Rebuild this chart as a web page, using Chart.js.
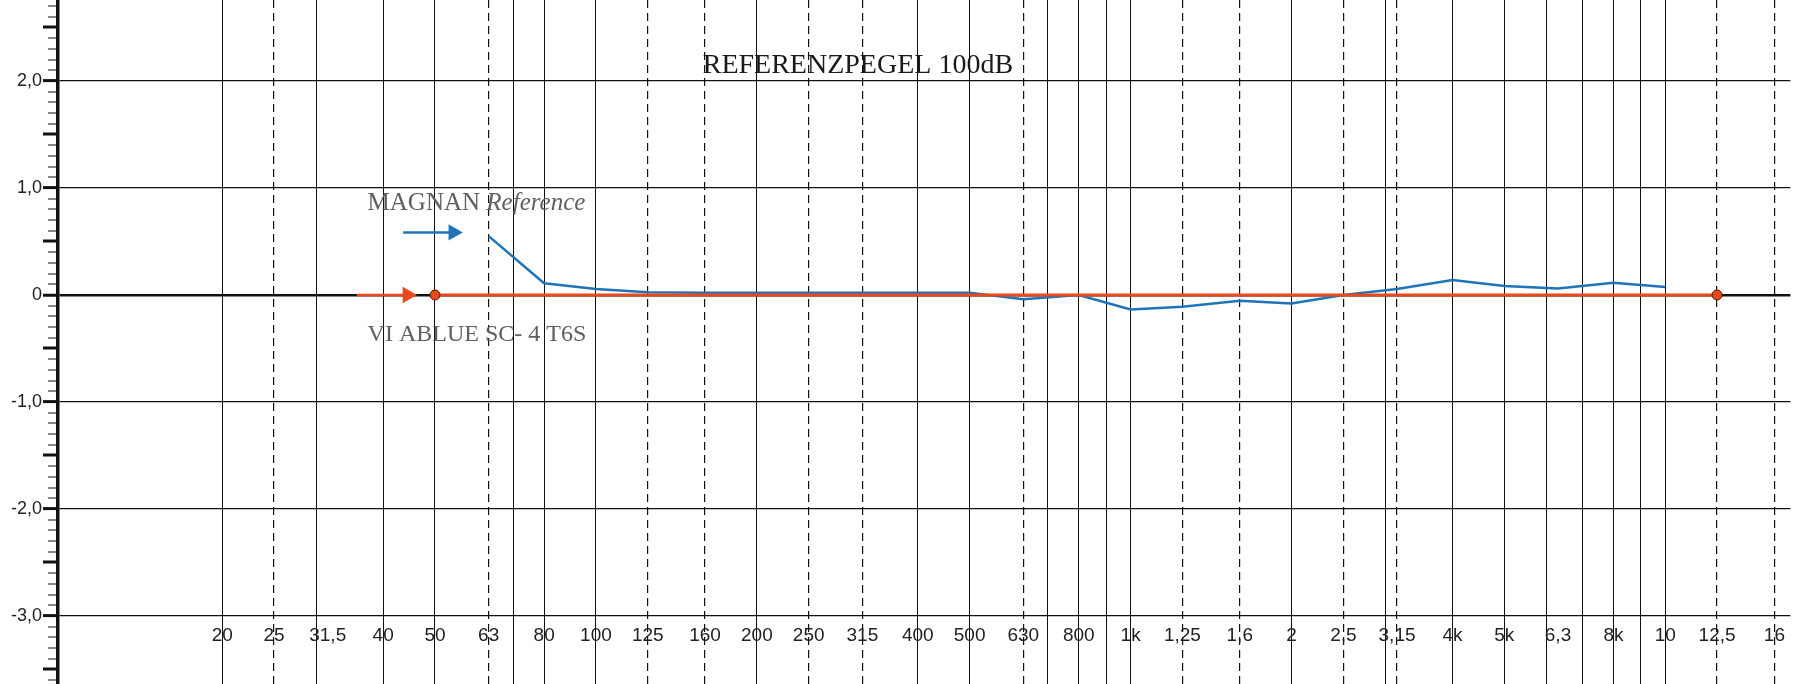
<!DOCTYPE html>
<html>
<head>
<meta charset="utf-8">
<title>Referenzpegel 100dB</title>
<script src="https://cdn.jsdelivr.net/npm/chart.js@4.4.1/dist/chart.umd.min.js"></script>
<style>
  html, body { margin: 0; padding: 0; background: #fff; }
  #wrap { position: relative; width: 1793px; height: 684px; }
</style>
</head>
<body>
<div id="wrap"><canvas id="freqChart"></canvas></div>
<script>
// MAGNAN Reference, 1/3-octave bands (Hz) and deviation (dB)
const magnanFreqs = [63, 80, 100, 125, 160, 200, 250, 315, 400, 500, 630, 800,
  1000, 1250, 1600, 2000, 2500, 3150, 4000, 5000, 6300, 8000, 10000];
const magnanDb = [0.55, 0.11, 0.055, 0.025, 0.02, 0.02, 0.02, 0.02, 0.02, 0.02, -0.04, 0.0,
  -0.135, -0.11, -0.055, -0.08, 0.0, 0.055, 0.14, 0.085, 0.06, 0.115, 0.075];

// VIABLUE SC-4 T6S
const viablueFreqs = [50, 12500];
const viablueDb = [0, 0];

// little legend arrows next to the labels
const magnanArrowFreqs = [43.6, 54.1];
const magnanArrowDb = [0.585, 0.585];
const viablueArrowFreqs = [35.7, 44.4];
const viablueArrowDb = [0, 0];

// x axis
const labelFreqs = [20, 25, 31.5, 40, 50, 63, 80, 100, 125, 160, 200, 250, 315, 400, 500, 630, 800,
  1000, 1250, 1600, 2000, 2500, 3150, 4000, 5000, 6300, 8000, 10000, 12500, 16000];
const labelTexts = ['20', '25', '31,5', '40', '50', '63', '80', '100', '125', '160', '200', '250', '315', '400', '500', '630', '800',
  '1k', '1,25', '1,6', '2', '2,5', '3,15', '4k', '5k', '6,3', '8k', '10', '12,5', '16'];
const solidFreqs = [20, 30, 40, 50, 70, 80, 100, 200, 400, 500, 700, 800, 900,
  1000, 2000, 3000, 4000, 5000, 6000, 7000, 8000, 9000, 10000];
const dashedFreqs = [25, 63, 125, 160, 250, 315, 630, 1250, 1600, 2500, 3150, 12500, 16000];

// y axis
const yLabelValues = [2, 1, 0, -1, -2, -3];
const yLabelTexts = ['2,0', '1,0', '0', '-1,0', '-2,0', '-3,0'];
const yTicks = [];
for (let k = -36; k <= 27; k++) yTicks.push(k / 10);

const X_MIN = 9.86, X_MAX = 17140;
const Y_MIN = -3.636, Y_MAX = 2.757;

const BLUE = '#1f74b8';
const ORANGE = '#e8491d';
const INK = '#111';

const isInt = v => Math.abs(v - Math.round(v)) < 1e-6;
const isHalf = v => Math.abs(v * 2 - Math.round(v * 2)) < 1e-6;
const pts = (xs, ys) => xs.map((x, i) => ({x: x, y: ys[i]}));

const texts = {
  id: 'texts',
  afterDatasetsDraw(chart) {
    const {ctx, scales: {x, y}} = chart;
    ctx.save();
    ctx.textBaseline = 'middle';

    ctx.fillStyle = '#1a1a1a';
    ctx.textAlign = 'center';
    ctx.font = '28px "Liberation Serif"';
    ctx.fillText('REFERENZPEGEL 100dB', x.getPixelForValue(309), y.getPixelForValue(2.14));

    ctx.fillStyle = '#606060';
    ctx.textAlign = 'left';
    const lx = x.getPixelForValue(37.4);
    ctx.font = '25px "Liberation Serif"';
    ctx.fillText('MAGNAN ', lx, y.getPixelForValue(0.86));
    const w = ctx.measureText('MAGNAN ').width;
    ctx.font = 'italic 25px "Liberation Serif"';
    ctx.fillText('Reference', lx + w, y.getPixelForValue(0.86));

    ctx.font = '24px "Liberation Serif"';
    ctx.fillText('VI ABLUE SC- 4 T6S', lx, y.getPixelForValue(-0.374));
    ctx.restore();
  }
};

const logAxis = (freqs) => ({
  type: 'logarithmic',
  axis: 'x',
  min: X_MIN,
  max: X_MAX,
  position: {y: -3},
  afterBuildTicks: s => { s.ticks = freqs.map(v => ({value: v})); }
});

new Chart(document.getElementById('freqChart'), {
  type: 'line',
  data: {
    datasets: [
      {
        label: 'VIABLUE SC-4 T6S',
        data: pts(viablueFreqs, viablueDb),
        borderColor: ORANGE,
        borderWidth: 3,
        pointRadius: 5,
        pointBackgroundColor: ORANGE,
        pointBorderColor: '#5a1a08',
        pointBorderWidth: 1
      },
      {
        label: 'MAGNAN Reference',
        data: pts(magnanFreqs, magnanDb),
        borderColor: BLUE,
        borderWidth: 2.5,
        pointRadius: 0
      },
      {
        label: 'arrow blue',
        data: pts(magnanArrowFreqs, magnanArrowDb),
        borderColor: BLUE,
        borderWidth: 2.5,
        pointRadius: [0, 9.5],
        pointStyle: 'triangle',
        rotation: 90,
        pointBackgroundColor: BLUE,
        pointBorderWidth: 0
      },
      {
        label: 'arrow orange',
        data: pts(viablueArrowFreqs, viablueArrowDb),
        borderColor: ORANGE,
        borderWidth: 2.5,
        pointRadius: [0, 9.5],
        pointStyle: 'triangle',
        rotation: 90,
        pointBackgroundColor: ORANGE,
        pointBorderWidth: 0
      }
    ]
  },
  options: {
    responsive: true,
    maintainAspectRatio: false,
    animation: false,
    layout: { padding: 0, autoPadding: false },
    plugins: {
      legend: { display: false },
      tooltip: { enabled: false }
    },
    scales: {
      x: Object.assign(logAxis(solidFreqs), {
        grid: { color: INK, lineWidth: 1, drawTicks: false },
        border: { display: false },
        ticks: { display: false, autoSkip: false }
      }),
      xDash: Object.assign(logAxis(dashedFreqs), {
        grid: { color: INK, lineWidth: 1.2, drawTicks: false },
        border: { display: false, dash: [8, 5] },
        ticks: { display: false, autoSkip: false }
      }),
      xLabel: Object.assign(logAxis(labelFreqs), {
        grid: { display: false, drawTicks: false },
        border: { display: false },
        ticks: {
          autoSkip: false,
          maxRotation: 0,
          minRotation: 0,
          padding: 8,
          color: '#222',
          font: { family: '"Liberation Sans", Arial, sans-serif', size: 19 },
          callback: (v, i) => labelTexts[i]
        }
      }),
      y: {
        type: 'linear',
        position: 'left',
        min: Y_MIN,
        max: Y_MAX,
        afterBuildTicks: s => { s.ticks = yTicks.map(v => ({value: v})); },
        afterFit: s => { s.width = 58; s.paddingTop = 0; s.paddingBottom = 0; },
        grid: {
          color: INK,
          lineWidth: c => isInt(c.tick.value) ? (Math.abs(c.tick.value) < 1e-6 ? 2.5 : 1.2) : 0,
          tickLength: 15,
          tickColor: INK,
          tickWidth: c => isHalf(c.tick.value) ? 3 : 1.2,
          tickBorderDash: c => isHalf(c.tick.value) ? [] : [0, 5, 30]
        },
        border: { display: true, color: '#111', width: 3.5 },
        ticks: {
          autoSkip: false,
          padding: 1,
          color: '#222',
          font: { family: '"Liberation Sans", Arial, sans-serif', size: 18 },
          callback: v => {
            const i = yLabelValues.findIndex(t => Math.abs(t - v) < 1e-6);
            return i >= 0 ? yLabelTexts[i] : '';
          }
        }
      }
    }
  },
  plugins: [texts]
});
</script>
</body>
</html>
